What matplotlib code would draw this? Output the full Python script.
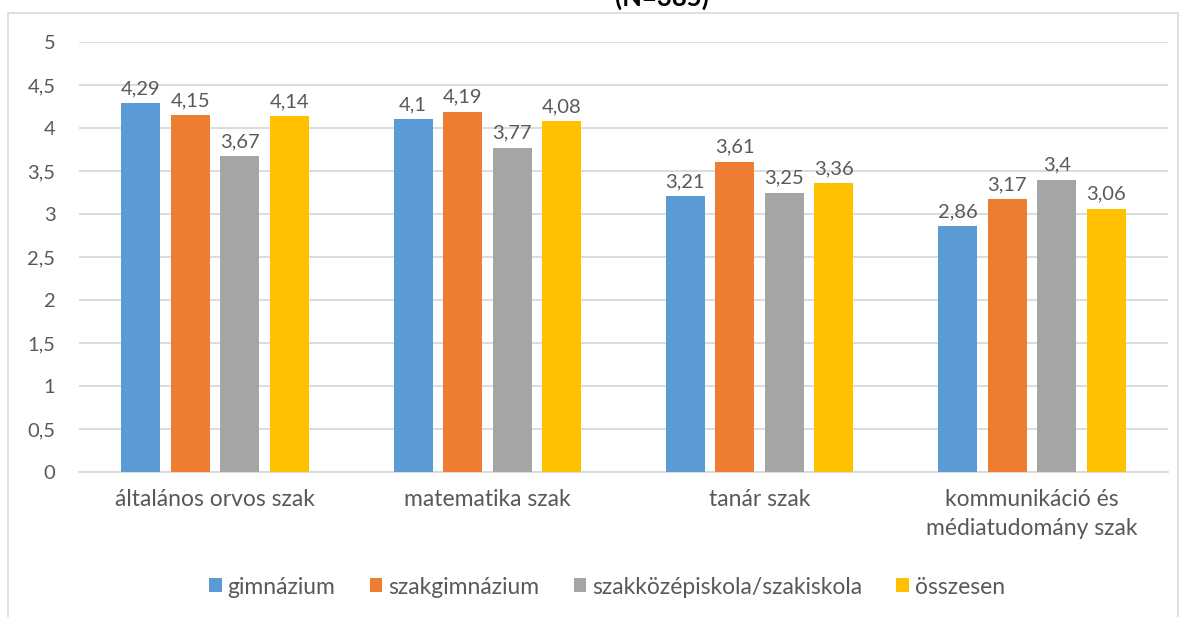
import matplotlib
matplotlib.use("Agg")
import matplotlib.pyplot as plt
from matplotlib.patches import Patch, Rectangle
import numpy as np

categories = ["általános orvos szak", "matematika szak", "tanár szak",
              "kommunikáció és\nmédiatudomány szak"]
series_names = ["gimnázium", "szakgimnázium", "szakközépiskola/szakiskola", "összesen"]
gimnazium = [4.29, 4.10, 3.21, 2.86]
szakgimnazium = [4.15, 4.19, 3.61, 3.17]
szakkozep = [3.67, 3.77, 3.25, 3.40]
osszesen = [4.14, 4.08, 3.36, 3.06]
yticks = [0, 0.5, 1, 1.5, 2, 2.5, 3, 3.5, 4, 4.5, 5]
title = "(N=385)"

colors = ["#5b9bd5", "#ed7d31", "#a5a5a5", "#ffc000"]
text_color = "#595959"
grid_color = "#d9d9d9"
num_size = 14.5
label_size = 16.5

plt.rcParams["font.family"] = ["Lato", "DejaVu Sans"]

fig = plt.figure(figsize=(11.86, 6.17), dpi=100)
ax = fig.add_axes([79 / 1186, 145 / 617, (1168 - 79) / 1186, 430 / 617])

# outer chart frame
fig.patches.append(Rectangle((8 / 1186, -0.05), 1170 / 1186, 1.05 - 13 / 617,
                             transform=fig.transFigure, fill=False,
                             edgecolor=grid_color, lw=1.2))

x = np.arange(len(categories))
width = 0.143
offsets = [-0.273, -0.091, 0.091, 0.273]
data = [gimnazium, szakgimnazium, szakkozep, osszesen]

def fmt(v):
    s = f"{v:.2f}".rstrip("0").rstrip(".")
    return s.replace(".", ",")

for vals, off, c in zip(data, offsets, colors):
    bars = ax.bar(x + off, vals, width, color=c, zorder=3)
    for b, v in zip(bars, vals):
        ax.text(b.get_x() + b.get_width() / 2, v + 0.07, fmt(v),
                ha="center", va="bottom", fontsize=num_size, color=text_color)

ax.set_xlim(-0.5, len(categories) - 0.5)
ax.set_ylim(0, 5)
ax.set_yticks(yticks)
ax.set_yticklabels([fmt(t) for t in yticks], fontsize=num_size, color=text_color)
ax.set_xticks(x)
ax.set_xticklabels(categories, fontsize=label_size, color=text_color, linespacing=1.5)
ax.tick_params(axis="both", length=0)
ax.tick_params(axis="y", pad=17)
ax.tick_params(axis="x", pad=12)
ax.grid(axis="y", color=grid_color, lw=1.3, zorder=0)
for s in ["top", "right", "left"]:
    ax.spines[s].set_visible(False)
ax.spines["bottom"].set_color(grid_color)
ax.spines["bottom"].set_linewidth(1.3)

handles = [Patch(facecolor=c) for c in colors]
fig.legend(handles, series_names, loc="center", bbox_to_anchor=(607 / 1186, 1 - 587 / 617),
           ncol=4, frameon=False, fontsize=label_size, labelcolor=text_color,
           handlelength=0.55, handleheight=0.55, handletextpad=0.25, columnspacing=1.5)

fig.text(662 / 1186, 1 - 6 / 617, title, ha="center", va="baseline",
         fontsize=18.5, fontweight="bold", color="#000000")

fig.savefig("out.png", dpi=100)
